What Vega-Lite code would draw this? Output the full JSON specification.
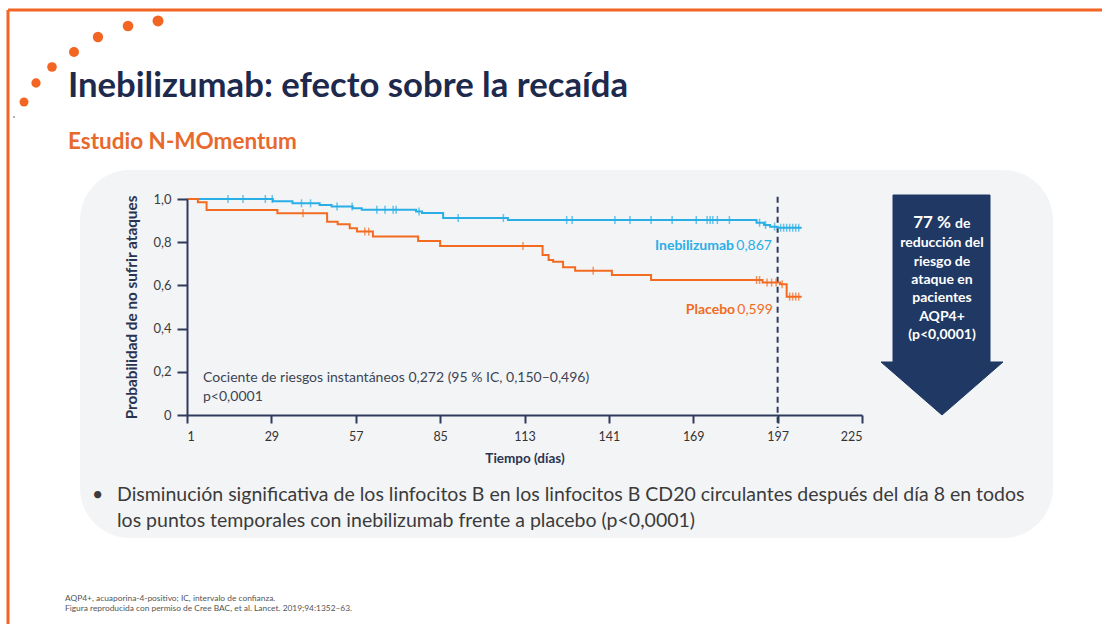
{
  "$schema": "https://vega.github.io/schema/vega-lite/v6.json",
  "width": 675,
  "height": 216,
  "autosize": "none",
  "padding": {"left": 187, "top": 199, "right": 240, "bottom": 209},
  "background": "white",
  "config": {"view": {"stroke": null}, "font": "Lato"},
  "layer": [
    {
      "data": {"values": [
        {"x": -58.4, "x2": 304.65, "y": 1.875, "y2": 1.875},
        {"x": -58.4, "x2": -58.4, "y": 1.875, "y2": -0.9676}
      ]},
      "mark": {"type": "rule", "color": "#f26522", "strokeWidth": 3},
      "encoding": {
        "x": {"field": "x", "type": "quantitative", "scale": {"domain": [1, 225], "nice": false, "zero": false}},
        "x2": {"field": "x2"},
        "y": {"field": "y", "type": "quantitative", "scale": {"domain": [0, 1], "nice": false, "zero": false}},
        "y2": {"field": "y2"}
      }
    },
    {
      "data": {"values": [{"x": -34.51, "x2": 288.39, "y": 1.1343, "y2": -0.5694}]},
      "mark": {"type": "rect", "color": "#f3f4f6", "cornerRadius": 50},
      "encoding": {
        "x": {"field": "x", "type": "quantitative", "scale": {"domain": [1, 225], "nice": false, "zero": false}},
        "x2": {"field": "x2"},
        "y": {"field": "y", "type": "quantitative", "scale": {"domain": [0, 1], "nice": false, "zero": false}},
        "y2": {"field": "y2"}
      }
    },
    {
      "data": {"values": [
        {"n": 1, "x": -8.62, "y": 1.8241},
        {"n": 2, "x": -18.58, "y": 1.8009},
        {"n": 3, "x": -28.54, "y": 1.75},
        {"n": 4, "x": -36.5, "y": 1.6806},
        {"n": 5, "x": -43.8, "y": 1.6111},
        {"n": 6, "x": -49.11, "y": 1.537},
        {"n": 7, "x": -53.09, "y": 1.4491}
      ]},
      "mark": {"type": "point", "filled": true, "opacity": 1, "strokeWidth": 0, "color": "#f26522"},
      "encoding": {
        "x": {"field": "x", "type": "quantitative", "scale": {"domain": [1, 225], "nice": false, "zero": false}},
        "y": {"field": "y", "type": "quantitative", "scale": {"domain": [0, 1], "nice": false, "zero": false}},
        "size": {"field": "n", "type": "ordinal", "scale": {"domain": [1, 2, 3, 4, 5, 6, 7], "range": [120, 80, 52, 38, 26, 14, 7]}, "legend": null}
      }
    },
    {
      "data": {"values": [{"x": -56.41, "y": 1.3796}]},
      "mark": {"type": "point", "filled": true, "opacity": 1, "strokeWidth": 0, "color": "#9a9a9a", "size": 4},
      "encoding": {
        "x": {"field": "x", "type": "quantitative", "scale": {"domain": [1, 225], "nice": false, "zero": false}},
        "y": {"field": "y", "type": "quantitative", "scale": {"domain": [0, 1], "nice": false, "zero": false}}
      }
    },
    {
      "data": {"values": [{"x": -38.49, "y": 1.4722, "t": "Inebilizumab: efecto sobre la recaída"}]},
      "mark": {"type": "text", "align": "left", "baseline": "alphabetic", "font": "Lato", "fontWeight": "bold", "fontSize": 34.7, "color": "#1d2a4e"},
      "encoding": {
        "x": {"field": "x", "type": "quantitative", "scale": {"domain": [1, 225], "nice": false, "zero": false}},
        "y": {"field": "y", "type": "quantitative", "scale": {"domain": [0, 1], "nice": false, "zero": false}},
        "text": {"field": "t"}
      }
    },
    {
      "data": {"values": [{"x": -38.49, "y": 1.2315, "t": "Estudio N-MOmentum"}]},
      "mark": {"type": "text", "align": "left", "baseline": "alphabetic", "font": "Lato", "fontWeight": "bold", "fontSize": 22.5, "color": "#e8692c"},
      "encoding": {
        "x": {"field": "x", "type": "quantitative", "scale": {"domain": [1, 225], "nice": false, "zero": false}},
        "y": {"field": "y", "type": "quantitative", "scale": {"domain": [0, 1], "nice": false, "zero": false}},
        "text": {"field": "t"}
      }
    },
    {
      "data": {"values": [
        {"o": 1, "x": 235.29, "y": 1.0185},
        {"o": 2, "x": 267.48, "y": 1.0185},
        {"o": 3, "x": 267.48, "y": 0.2454},
        {"o": 4, "x": 271.79, "y": 0.2454},
        {"o": 5, "x": 251.55, "y": 0.0},
        {"o": 6, "x": 231.31, "y": 0.2454},
        {"o": 7, "x": 235.29, "y": 0.2454},
        {"o": 8, "x": 235.29, "y": 1.0185}
      ]},
      "mark": {"type": "line", "fill": "#1f3864", "stroke": "#1f3864", "strokeWidth": 1, "interpolate": "linear"},
      "encoding": {
        "x": {"field": "x", "type": "quantitative", "scale": {"domain": [1, 225], "nice": false, "zero": false}},
        "y": {"field": "y", "type": "quantitative", "scale": {"domain": [0, 1], "nice": false, "zero": false}},
        "order": {"field": "o", "type": "quantitative"}
      }
    },
    {
      "data": {"values": [{"x": 254.54, "y": 0.8657, "t": "77 %"}]},
      "mark": {"type": "text", "align": "right", "baseline": "alphabetic", "font": "Lato", "fontWeight": "bold", "fontSize": 17, "color": "white"},
      "encoding": {
        "x": {"field": "x", "type": "quantitative", "scale": {"domain": [1, 225], "nice": false, "zero": false}},
        "y": {"field": "y", "type": "quantitative", "scale": {"domain": [0, 1], "nice": false, "zero": false}},
        "text": {"field": "t"}
      }
    },
    {
      "data": {"values": [{"x": 255.87, "y": 0.8657, "t": "de"}]},
      "mark": {"type": "text", "align": "left", "baseline": "alphabetic", "font": "Lato", "fontWeight": "bold", "fontSize": 14, "color": "white"},
      "encoding": {
        "x": {"field": "x", "type": "quantitative", "scale": {"domain": [1, 225], "nice": false, "zero": false}},
        "y": {"field": "y", "type": "quantitative", "scale": {"domain": [0, 1], "nice": false, "zero": false}},
        "text": {"field": "t"}
      }
    },
    {
      "data": {"values": [
        {"x": 251.55, "y": 0.7963, "t": "reducción del"},
        {"x": 251.55, "y": 0.7083, "t": "riesgo de"},
        {"x": 251.55, "y": 0.625, "t": "ataque en"},
        {"x": 251.55, "y": 0.5417, "t": "pacientes"},
        {"x": 251.55, "y": 0.4537, "t": "AQP4+"},
        {"x": 251.55, "y": 0.3704, "t": "(p<0,0001)"}
      ]},
      "mark": {"type": "text", "align": "center", "baseline": "middle", "font": "Lato", "fontWeight": "bold", "fontSize": 14, "color": "white"},
      "encoding": {
        "x": {"field": "x", "type": "quantitative", "scale": {"domain": [1, 225], "nice": false, "zero": false}},
        "y": {"field": "y", "type": "quantitative", "scale": {"domain": [0, 1], "nice": false, "zero": false}},
        "text": {"field": "t"}
      }
    },
    {
      "data": {"values": [
        {"x": -30.53, "y": -0.3704, "t": "•"},
        {"x": -22.23, "y": -0.3704, "t": "Disminución significativa de los linfocitos B en los linfocitos B CD20 circulantes después del día 8 en todos"},
        {"x": -22.23, "y": -0.4907, "t": "los puntos temporales con inebilizumab frente a placebo (p<0,0001)"}
      ]},
      "mark": {"type": "text", "align": "left", "baseline": "middle", "font": "Lato", "fontSize": 19.5, "color": "#3b3b3b"},
      "encoding": {
        "x": {"field": "x", "type": "quantitative", "scale": {"domain": [1, 225], "nice": false, "zero": false}},
        "y": {"field": "y", "type": "quantitative", "scale": {"domain": [0, 1], "nice": false, "zero": false}},
        "text": {"field": "t"}
      }
    },
    {
      "data": {"values": [
        {"x": -39.49, "y": -0.8472, "t": "AQP4+, acuaporina-4-positivo; IC, intervalo de confianza."},
        {"x": -39.49, "y": -0.8935, "t": "Figura reproducida con permiso de Cree BAC, et al. Lancet. 2019;94:1352–63."}
      ]},
      "mark": {"type": "text", "align": "left", "baseline": "middle", "font": "Lato", "fontSize": 8.4, "color": "#555555"},
      "encoding": {
        "x": {"field": "x", "type": "quantitative", "scale": {"domain": [1, 225], "nice": false, "zero": false}},
        "y": {"field": "y", "type": "quantitative", "scale": {"domain": [0, 1], "nice": false, "zero": false}},
        "text": {"field": "t"}
      }
    },
    {
      "data": {"values": [{"x": 197, "y": 1.01, "y2": -0.06}]},
      "mark": {"type": "rule", "color": "#2e3b5b", "strokeWidth": 2, "strokeDash": [6, 4]},
      "encoding": {
        "x": {"field": "x", "type": "quantitative", "scale": {"domain": [1, 225], "nice": false, "zero": false}},
        "y": {"field": "y", "type": "quantitative", "scale": {"domain": [0, 1], "nice": false, "zero": false}},
        "y2": {"field": "y2"}
      }
    },
    {
      "data": {"values": [
        {"g": "Inebilizumab", "d": 1, "s": 1.0},
        {"g": "Inebilizumab", "d": 29.5, "s": 0.99},
        {"g": "Inebilizumab", "d": 36, "s": 0.98},
        {"g": "Inebilizumab", "d": 45, "s": 0.972},
        {"g": "Inebilizumab", "d": 49, "s": 0.965},
        {"g": "Inebilizumab", "d": 56, "s": 0.957},
        {"g": "Inebilizumab", "d": 59, "s": 0.95},
        {"g": "Inebilizumab", "d": 77, "s": 0.942},
        {"g": "Inebilizumab", "d": 79, "s": 0.935},
        {"g": "Inebilizumab", "d": 86, "s": 0.912},
        {"g": "Inebilizumab", "d": 107.5, "s": 0.903},
        {"g": "Inebilizumab", "d": 190, "s": 0.89},
        {"g": "Inebilizumab", "d": 192.5, "s": 0.88},
        {"g": "Inebilizumab", "d": 194.5, "s": 0.872},
        {"g": "Inebilizumab", "d": 197, "s": 0.867},
        {"g": "Inebilizumab", "d": 205, "s": 0.867},
        {"g": "Placebo", "d": 1, "s": 1.0},
        {"g": "Placebo", "d": 4.6, "s": 0.985},
        {"g": "Placebo", "d": 7.5, "s": 0.949},
        {"g": "Placebo", "d": 31, "s": 0.934},
        {"g": "Placebo", "d": 47.5, "s": 0.895},
        {"g": "Placebo", "d": 51, "s": 0.883},
        {"g": "Placebo", "d": 55, "s": 0.865},
        {"g": "Placebo", "d": 57.4, "s": 0.849},
        {"g": "Placebo", "d": 62.7, "s": 0.826},
        {"g": "Placebo", "d": 77.7, "s": 0.806},
        {"g": "Placebo", "d": 85, "s": 0.782},
        {"g": "Placebo", "d": 119, "s": 0.741},
        {"g": "Placebo", "d": 121, "s": 0.718},
        {"g": "Placebo", "d": 122.5, "s": 0.71},
        {"g": "Placebo", "d": 125.8, "s": 0.684},
        {"g": "Placebo", "d": 129.8, "s": 0.668},
        {"g": "Placebo", "d": 142, "s": 0.648},
        {"g": "Placebo", "d": 155, "s": 0.625},
        {"g": "Placebo", "d": 192, "s": 0.613},
        {"g": "Placebo", "d": 197.8, "s": 0.605},
        {"g": "Placebo", "d": 200, "s": 0.548},
        {"g": "Placebo", "d": 205, "s": 0.548}
      ]},
      "mark": {"type": "line", "interpolate": "step-after", "strokeWidth": 2},
      "encoding": {
        "x": {"field": "d", "type": "quantitative", "scale": {"domain": [1, 225], "nice": false, "zero": false},
          "axis": {"values": [1, 29, 57, 85, 113, 141, 169, 197, 225], "title": "Tiempo (días)", "grid": false, "zindex": 1,
            "domainColor": "#2e3b5b", "domainWidth": 2, "tickColor": "#2e3b5b", "tickWidth": 2, "tickSize": 8,
            "labelFont": "Lato", "labelFontSize": 12.5, "labelColor": "#333333", "labelPadding": 7,
            "titleFont": "Lato", "titleFontSize": 13.5, "titleFontWeight": "bold", "titleColor": "#2a3350", "titlePadding": 9}},
        "y": {"field": "s", "type": "quantitative", "scale": {"domain": [0, 1], "nice": false, "zero": false},
          "axis": {"values": [0, 0.2, 0.4, 0.6, 0.8, 1.0], "title": "Probabilidad de no sufrir ataques", "grid": false, "zindex": 1,
            "labelExpr": "datum.value == 0 ? '0' : replace(format(datum.value, '.1f'), '.', ',')",
            "domainColor": "#2e3b5b", "domainWidth": 2, "tickColor": "#2e3b5b", "tickWidth": 2, "tickSize": 10,
            "labelFont": "Lato", "labelFontSize": 13, "labelColor": "#3c3c3c", "labelPadding": 6,
            "titleFont": "Lato", "titleFontSize": 15.3, "titleFontWeight": "bold", "titleColor": "#2a3350", "titlePadding": 13}},
        "color": {"field": "g", "type": "nominal", "scale": {"domain": ["Inebilizumab", "Placebo"], "range": ["#2aaee6", "#f26b21"]}, "legend": null}
      }
    },
    {
      "data": {"values": [
        {"g": "Inebilizumab", "d": 14.6, "s": 1.0},
        {"g": "Inebilizumab", "d": 19.6, "s": 1.0},
        {"g": "Inebilizumab", "d": 27, "s": 1.0},
        {"g": "Inebilizumab", "d": 29.3, "s": 1.0},
        {"g": "Inebilizumab", "d": 39, "s": 0.98},
        {"g": "Inebilizumab", "d": 42, "s": 0.98},
        {"g": "Inebilizumab", "d": 50.8, "s": 0.965},
        {"g": "Inebilizumab", "d": 55.8, "s": 0.965},
        {"g": "Inebilizumab", "d": 64, "s": 0.95},
        {"g": "Inebilizumab", "d": 66.7, "s": 0.95},
        {"g": "Inebilizumab", "d": 69.4, "s": 0.95},
        {"g": "Inebilizumab", "d": 70.4, "s": 0.95},
        {"g": "Inebilizumab", "d": 78, "s": 0.942},
        {"g": "Inebilizumab", "d": 91, "s": 0.912},
        {"g": "Inebilizumab", "d": 106, "s": 0.912},
        {"g": "Inebilizumab", "d": 127, "s": 0.903},
        {"g": "Inebilizumab", "d": 128.8, "s": 0.903},
        {"g": "Inebilizumab", "d": 143, "s": 0.903},
        {"g": "Inebilizumab", "d": 148, "s": 0.903},
        {"g": "Inebilizumab", "d": 155, "s": 0.903},
        {"g": "Inebilizumab", "d": 162, "s": 0.903},
        {"g": "Inebilizumab", "d": 170, "s": 0.903},
        {"g": "Inebilizumab", "d": 173.6, "s": 0.903},
        {"g": "Inebilizumab", "d": 174.6, "s": 0.903},
        {"g": "Inebilizumab", "d": 175.5, "s": 0.903},
        {"g": "Inebilizumab", "d": 177, "s": 0.903},
        {"g": "Inebilizumab", "d": 181, "s": 0.903},
        {"g": "Inebilizumab", "d": 191, "s": 0.89},
        {"g": "Inebilizumab", "d": 193, "s": 0.88},
        {"g": "Inebilizumab", "d": 196, "s": 0.872},
        {"g": "Inebilizumab", "d": 198, "s": 0.867},
        {"g": "Inebilizumab", "d": 199, "s": 0.867},
        {"g": "Inebilizumab", "d": 200, "s": 0.867},
        {"g": "Inebilizumab", "d": 201, "s": 0.867},
        {"g": "Inebilizumab", "d": 202, "s": 0.867},
        {"g": "Inebilizumab", "d": 203, "s": 0.867},
        {"g": "Inebilizumab", "d": 204, "s": 0.867},
        {"g": "Placebo", "d": 39.5, "s": 0.934},
        {"g": "Placebo", "d": 60, "s": 0.849},
        {"g": "Placebo", "d": 61.3, "s": 0.849},
        {"g": "Placebo", "d": 112.5, "s": 0.782},
        {"g": "Placebo", "d": 135.8, "s": 0.668},
        {"g": "Placebo", "d": 190, "s": 0.625},
        {"g": "Placebo", "d": 191, "s": 0.625},
        {"g": "Placebo", "d": 193.5, "s": 0.613},
        {"g": "Placebo", "d": 195, "s": 0.613},
        {"g": "Placebo", "d": 196.5, "s": 0.613},
        {"g": "Placebo", "d": 198.5, "s": 0.605},
        {"g": "Placebo", "d": 201, "s": 0.548},
        {"g": "Placebo", "d": 202, "s": 0.548},
        {"g": "Placebo", "d": 203, "s": 0.548},
        {"g": "Placebo", "d": 204, "s": 0.548}
      ]},
      "mark": {"type": "tick", "orient": "vertical", "size": 8, "thickness": 1.5},
      "encoding": {
        "x": {"field": "d", "type": "quantitative", "scale": {"domain": [1, 225], "nice": false, "zero": false}},
        "y": {"field": "s", "type": "quantitative", "scale": {"domain": [0, 1], "nice": false, "zero": false}},
        "color": {"field": "g", "type": "nominal", "scale": {"domain": ["Inebilizumab", "Placebo"], "range": ["#2aaee6", "#f26b21"]}, "legend": null}
      }
    },
    {
      "data": {"values": [
        {"g": "Inebilizumab", "x": 182.53, "y": 0.7824, "t": "Inebilizumab"},
        {"g": "Placebo", "x": 182.9, "y": 0.4861, "t": "Placebo"}
      ]},
      "mark": {"type": "text", "align": "right", "baseline": "middle", "font": "Lato", "fontWeight": "bold", "fontSize": 14},
      "encoding": {
        "x": {"field": "x", "type": "quantitative", "scale": {"domain": [1, 225], "nice": false, "zero": false}},
        "y": {"field": "y", "type": "quantitative", "scale": {"domain": [0, 1], "nice": false, "zero": false}},
        "text": {"field": "t"},
        "color": {"field": "g", "type": "nominal", "scale": {"domain": ["Inebilizumab", "Placebo"], "range": ["#2aaee6", "#f26b21"]}, "legend": null}
      }
    },
    {
      "data": {"values": [
        {"g": "Inebilizumab", "x": 195.13, "y": 0.7824, "t": "0,867"},
        {"g": "Placebo", "x": 195.46, "y": 0.4861, "t": "0,599"}
      ]},
      "mark": {"type": "text", "align": "right", "baseline": "middle", "font": "Lato", "fontSize": 14},
      "encoding": {
        "x": {"field": "x", "type": "quantitative", "scale": {"domain": [1, 225], "nice": false, "zero": false}},
        "y": {"field": "y", "type": "quantitative", "scale": {"domain": [0, 1], "nice": false, "zero": false}},
        "text": {"field": "t"},
        "color": {"field": "g", "type": "nominal", "scale": {"domain": ["Inebilizumab", "Placebo"], "range": ["#2aaee6", "#f26b21"]}, "legend": null}
      }
    },
    {
      "data": {"values": [
        {"x": 6.31, "y": 0.1713, "t": "Cociente de riesgos instantáneos 0,272 (95 % IC, 0,150–0,496)"},
        {"x": 6.31, "y": 0.0833, "t": "p<0,0001"}
      ]},
      "mark": {"type": "text", "align": "left", "baseline": "middle", "font": "Lato", "fontSize": 14, "color": "#3d4454"},
      "encoding": {
        "x": {"field": "x", "type": "quantitative", "scale": {"domain": [1, 225], "nice": false, "zero": false}},
        "y": {"field": "y", "type": "quantitative", "scale": {"domain": [0, 1], "nice": false, "zero": false}},
        "text": {"field": "t"}
      }
    }
  ]
}
